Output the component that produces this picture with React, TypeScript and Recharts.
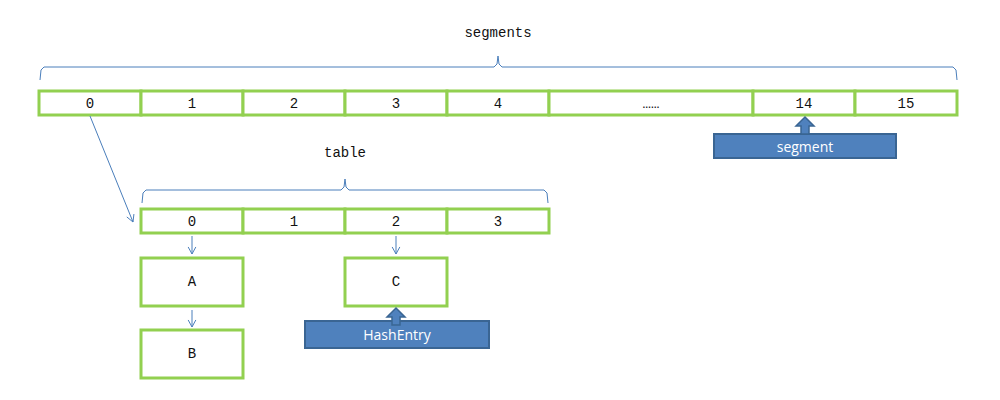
import { ScatterChart, Scatter, XAxis, YAxis, ReferenceArea, ReferenceLine } from 'recharts';

// cell boundaries (pixel-like units of the diagram) and their labels
const segBounds = [39, 141, 243, 345, 447, 549, 753, 855, 957];
const segLabels = ['0', '1', '2', '3', '4', '……', '14', '15'];
const tableBounds = [141, 243, 345, 447, 549];
const tableLabels = ['0', '1', '2', '3'];
const entries = [
  { label: 'A', x1: 141, x2: 243, y1: 258, y2: 306 },
  { label: 'C', x1: 345, x2: 447, y1: 258, y2: 306 },
  { label: 'B', x1: 141, x2: 243, y1: 330, y2: 378 },
];
const tags = [
  { label: 'segment', x1: 714, x2: 896, y1: 134, y2: 158, tipX: 805, tipY: 117 },
  { label: 'HashEntry', x1: 305, x2: 489, y1: 321, y2: 348, tipX: 396, tipY: 308 },
];
const arrows = [
  { x1: 90, y1: 116, x2: 133, y2: 222 },
  { x1: 192, y1: 236, x2: 192, y2: 254 },
  { x1: 192, y1: 310, x2: 192, y2: 327 },
  { x1: 396, y1: 236, x2: 396, y2: 254 },
];
const braces = [
  { label: 'segments', x1: 40, x2: 957, y: 67, bottom: 80, tip: 498, labelY: 33 },
  { label: 'table', x1: 142, x2: 548, y: 190, bottom: 203, tip: 345, labelY: 153 },
];

const GREEN = '#92D050';
const BLUE = '#4F81BD';
const LINE = '#4A7EBB';
const SERIF = '"Liberation Mono", "DejaVu Sans Mono", monospace';

const textPoints = [
  ...segLabels.map((l, i) => ({ x: (segBounds[i] + segBounds[i + 1]) / 2, y: 104, label: l })),
  ...tableLabels.map((l, i) => ({ x: (tableBounds[i] + tableBounds[i + 1]) / 2, y: 222, label: l })),
  ...entries.map((e) => ({ x: (e.x1 + e.x2) / 2, y: (e.y1 + e.y2) / 2, label: e.label })),
  ...braces.map((b) => ({ x: b.tip, y: b.labelY, label: b.label })),
];
const tagText = tags.map((t) => ({ x: (t.x1 + t.x2) / 2, y: (t.y1 + t.y2) / 2, label: t.label }));
const tagTips = tags.map((t) => ({ x: t.tipX, y: t.tipY }));

function braceSegments(b: (typeof braces)[number]) {
  const pts = [
    [b.x1, b.bottom], [b.x1 + 1, b.y + 3], [b.x1 + 4, b.y],
    [b.tip - 4, b.y], [b.tip - 1, b.y - 3], [b.tip, b.y - 11],
    [b.tip + 1, b.y - 3], [b.tip + 4, b.y], [b.x2 - 4, b.y],
    [b.x2 - 1, b.y + 3], [b.x2, b.bottom],
  ];
  return pts.slice(1).map((p, i) => [{ x: pts[i][0], y: pts[i][1] }, { x: p[0], y: p[1] }]);
}

function arrowHead(a: (typeof arrows)[number]) {
  const ang = Math.atan2(a.y2 - a.y1, a.x2 - a.x1);
  const len = 8;
  return [-0.5, 0.5].map((d) => [
    { x: a.x2, y: a.y2 },
    { x: a.x2 - len * Math.cos(ang + d), y: a.y2 - len * Math.sin(ang + d) },
  ]);
}

export default function App() {
  return (
    <div style={{ position: 'absolute', left: 0, top: 0, background: '#fff' }}>
      <ScatterChart width={1000} height={400} margin={{ top: 0, right: 0, bottom: 0, left: 0 }}>
        <XAxis type="number" dataKey="x" domain={[0, 1000]} hide />
        <YAxis type="number" dataKey="y" domain={[0, 400]} reversed hide />
        {braces.flatMap((b, bi) =>
          braceSegments(b).map((s, i) => (
            <ReferenceLine key={`b${bi}-${i}`} segment={s} stroke={LINE} strokeWidth={1} />
          ))
        )}
        {arrows.map((a, i) => (
          <ReferenceLine key={`a${i}`} segment={[{ x: a.x1, y: a.y1 }, { x: a.x2, y: a.y2 }]} stroke={LINE} />
        ))}
        {arrows.flatMap((a, i) =>
          arrowHead(a).map((s, j) => <ReferenceLine key={`h${i}-${j}`} segment={s} stroke={LINE} />)
        )}
        {segBounds.slice(1).map((x2, i) => (
          <ReferenceArea key={`s${i}`} x1={segBounds[i]} x2={x2} y1={91} y2={115}
            fill="#fff" fillOpacity={1} stroke={GREEN} strokeWidth={3} />
        ))}
        {tableBounds.slice(1).map((x2, i) => (
          <ReferenceArea key={`t${i}`} x1={tableBounds[i]} x2={x2} y1={209} y2={233}
            fill="#fff" fillOpacity={1} stroke={GREEN} strokeWidth={3} />
        ))}
        {entries.map((e) => (
          <ReferenceArea key={e.label} x1={e.x1} x2={e.x2} y1={e.y1} y2={e.y2}
            fill="#fff" fillOpacity={1} stroke={GREEN} strokeWidth={3} />
        ))}
        {tags.map((t) => (
          <ReferenceArea key={t.label} x1={t.x1} x2={t.x2} y1={t.y1} y2={t.y2}
            fill={BLUE} fillOpacity={1} stroke="#3A6593" strokeWidth={2} />
        ))}
        <Scatter
          data={tagTips}
          isAnimationActive={false}
          shape={(p: any) => (
            <polygon
              points={`${p.cx},${p.cy} ${p.cx + 9},${p.cy + 9} ${p.cx + 4},${p.cy + 9} ${p.cx + 4},${p.cy + 17} ${p.cx - 4},${p.cy + 17} ${p.cx - 4},${p.cy + 9} ${p.cx - 9},${p.cy + 9}`}
              fill={BLUE} stroke="#3A6593" strokeWidth={1.5}
            />
          )}
        />
        <Scatter
          data={textPoints}
          isAnimationActive={false}
          shape={(p: any) => (
            <text x={p.cx} y={p.cy} textAnchor="middle" dominantBaseline="central"
              fontFamily={SERIF} fontSize={14} fill="#111">
              {p.payload.label}
            </text>
          )}
        />
        <Scatter
          data={tagText}
          isAnimationActive={false}
          shape={(p: any) => (
            <text x={p.cx} y={p.cy} textAnchor="middle" dominantBaseline="central"
              fontFamily='"Open Sans", sans-serif' fontSize={14} fill="#fff">
              {p.payload.label}
            </text>
          )}
        />
      </ScatterChart>
    </div>
  );
}
